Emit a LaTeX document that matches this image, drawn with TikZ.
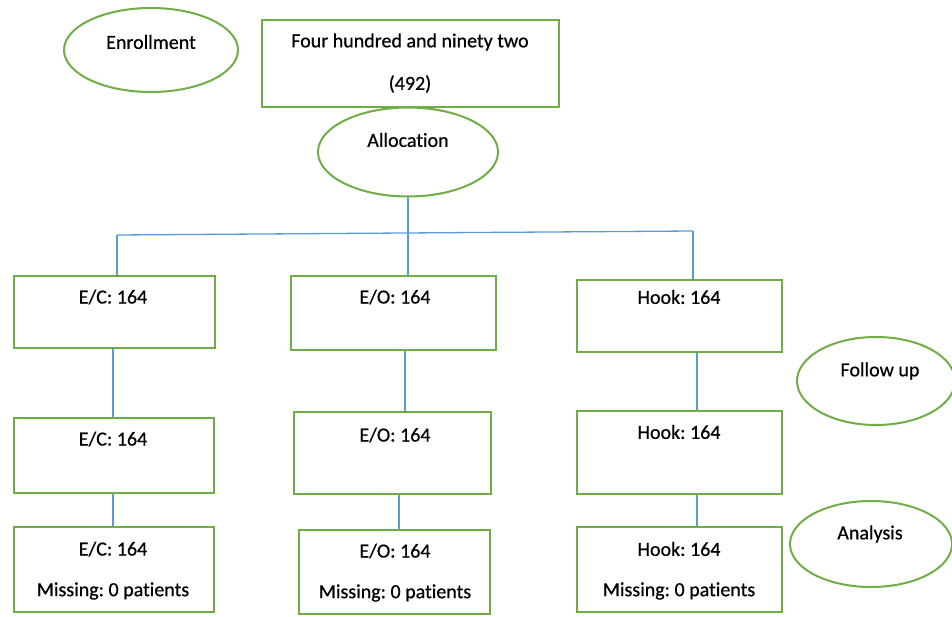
\documentclass[tikz,border=0pt]{standalone}
\usepackage{fontspec}
\setmainfont[Ligatures=NoCommon,FakeBold=0.6]{Carlito}
\usetikzlibrary{shapes.geometric}
\definecolor{boxgreen}{RGB}{112,173,71}
\definecolor{lineblue}{RGB}{91,155,213}
\frenchspacing
\begin{document}
\begin{tikzpicture}[x=1pt,y=-1pt,
  box/.style={draw=boxgreen,line width=2pt,rectangle,inner sep=0pt},
  oval/.style={draw=boxgreen,line width=2pt,ellipse,inner sep=0pt},
  txt/.style={font=\fontsize{20}{24}\selectfont,text=black,inner sep=0pt},
  link/.style={draw=lineblue,line width=1.3pt}]
\useasboundingbox (0,0) rectangle (952,617);
% shapes
\node[oval,minimum width=174pt,minimum height=84pt] (enroll) at (151,50) {};
\node[box,minimum width=297pt,minimum height=87pt] (top) at (410.5,63.5) {};
\node[oval,minimum width=180pt,minimum height=89pt] (alloc) at (408,152) {};
\node[box,minimum width=201pt,minimum height=72pt] (ec1) at (114.5,312) {};
\node[box,minimum width=205pt,minimum height=74pt] (eo1) at (393.5,313) {};
\node[box,minimum width=205pt,minimum height=72pt] (hk1) at (679.5,316) {};
\node[box,minimum width=200pt,minimum height=75pt] (ec2) at (114,455.5) {};
\node[box,minimum width=197pt,minimum height=82pt] (eo2) at (392.5,453) {};
\node[box,minimum width=205pt,minimum height=83pt] (hk2) at (679.5,452.5) {};
\node[box,minimum width=200pt,minimum height=85pt] (ec3) at (114,569.5) {};
\node[box,minimum width=191pt,minimum height=84pt] (eo3) at (394.5,572) {};
\node[box,minimum width=205pt,minimum height=85pt] (hk3) at (679.5,569.5) {};
\node[oval,minimum width=158pt,minimum height=88pt] (follow) at (876,381) {};
\node[oval,minimum width=162pt,minimum height=86pt] (analysis) at (871,544) {};
% texts
\node[txt] (tenroll) at (151,42) {Enrollment};
\node[txt] (ttop1) at (410,42) {Four hundred and ninety two};
\node[txt] (ttop2) at (410,84) {(492)};
\node[txt] (talloc) at (408,140) {Allocation};
\node[txt] (tec1) at (113,297) {E/C: 164};
\node[txt] (teo1) at (395,297) {E/O: 164};
\node[txt] (thk1) at (679,297) {Hook: 164};
\node[txt] (tec2) at (113,439) {E/C: 164};
\node[txt] (teo2) at (395,435) {E/O: 164};
\node[txt] (thk2) at (679,432) {Hook: 164};
\node[txt] (tec3) at (113,549) {E/C: 164};
\node[txt] (tec3b) at (113,591) {Missing: 0 patients};
\node[txt] (teo3) at (395,551) {E/O: 164};
\node[txt] (teo3b) at (395,593) {Missing: 0 patients};
\node[txt] (thk3) at (679,549) {Hook: 164};
\node[txt] (thk3b) at (679,591) {Missing: 0 patients};
\node[txt] (tfollow) at (880,371) {Follow up};
\node[txt] (tanalysis) at (870,534) {Analysis};
% connectors
\coordinate (jc) at (408,233);
\coordinate (jl) at (117,235);
\coordinate (jr) at (693,231);
\draw[link] (alloc.south) -- (jc);
\draw[link] (jl) -- (jr);
\draw[link] (jl) -- (jl |- ec1.north);
\draw[link] (jc) -- (jc |- eo1.north);
\draw[link] (jr) -- (jr |- hk1.north);
\draw[link] ([xshift=-1.5pt]ec1.south) -- ([xshift=-1pt]ec2.north);
\draw[link] ([xshift=11.5pt]eo1.south) -- ([xshift=12.5pt]eo2.north);
\draw[link] ([xshift=17.5pt]hk1.south) -- ([xshift=17.5pt]hk2.north);
\draw[link] ([xshift=-1pt]ec2.south) -- ([xshift=-1pt]ec3.north);
\draw[link] ([xshift=6.5pt]eo2.south) -- ([xshift=4.5pt]eo3.north);
\draw[link] ([xshift=17.5pt]hk2.south) -- ([xshift=17.5pt]hk3.north);
\end{tikzpicture}
\end{document}
